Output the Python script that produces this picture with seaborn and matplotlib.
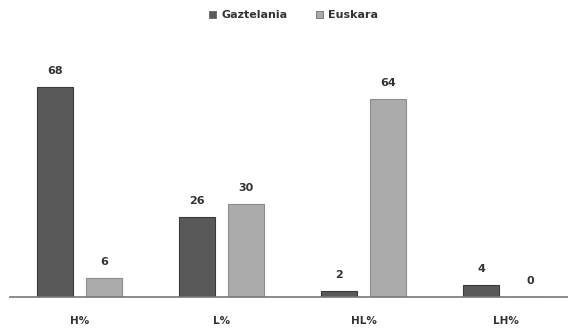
import matplotlib
matplotlib.use("Agg")
import matplotlib.pyplot as plt
import seaborn as sns
import pandas as pd

categories = ["H%", "L%", "HL%", "LH%"]
series_names = ["Gaztelania", "Euskara"]
gaztelania = [68, 26, 2, 4]
euskara = [6, 30, 64, 0]

df = pd.DataFrame({
    "cat": categories * 2,
    "series": [series_names[0]] * 4 + [series_names[1]] * 4,
    "value": gaztelania + euskara,
})

sns.set_theme(style="white")
plt.rcParams['font.family'] = ['DejaVu Sans']

W, H = 568, 331
fig = plt.figure(figsize=(W / 100, H / 100), dpi=100)
ax = fig.add_axes([10 / W, 34 / H, 1 - 10 / W, (297 - 40) / H])

colors = ["#595959", "#ababab"]
sns.barplot(data=df, x="cat", y="value", hue="series", hue_order=series_names,
            palette=colors, width=0.69, gap=0.25, ax=ax, legend=False,
            edgecolor="#3a3a3a", linewidth=0.8)
for i, p in enumerate(ax.patches):
    if i >= 4:
        p.set_edgecolor("#8c8c8c")

ax.set_ylim(0, 257 / 3.09)
ax.set_xlim(-0.49, 3.44)

for cont in ax.containers:
    ax.bar_label(cont, fmt="%d", padding=8, fontsize=8, color="#333333",
                 fontweight="bold")

for s in ["top", "right", "left"]:
    ax.spines[s].set_visible(False)
ax.spines["bottom"].set_color("#777777")
ax.spines["bottom"].set_linewidth(1.2)
ax.set_yticks([])
ax.set_xlabel("")
ax.set_ylabel("")
ax.tick_params(axis="x", length=0, pad=14, labelsize=7.5, labelcolor="#333333")
for t in ax.get_xticklabels():
    t.set_fontweight("bold")

from matplotlib.patches import Patch
handles = [Patch(facecolor=c, edgecolor="#555555", linewidth=0.5) for c in colors]
fig.legend(handles, series_names, loc="center", bbox_to_anchor=(0.517, 1 - 15 / H),
           ncol=2, frameon=False, prop={"size": 8, "weight": "bold"},
           handlelength=0.6, handleheight=0.6, labelcolor="#333333",
           handletextpad=0.5, columnspacing=2.6)

fig.savefig("out.png", dpi=100)
